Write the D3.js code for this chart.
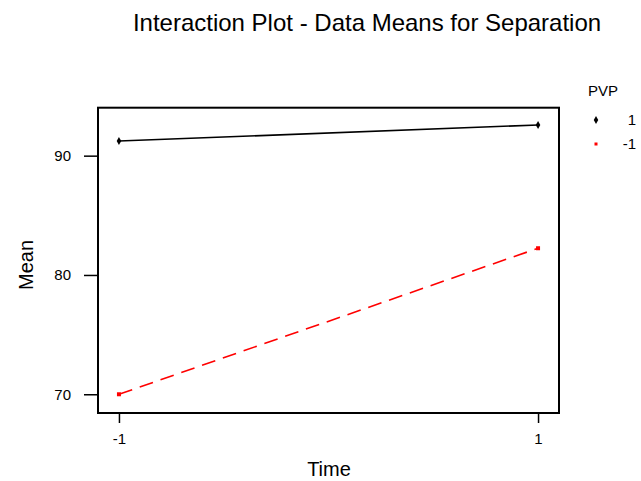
<!DOCTYPE html>
<html><head><meta charset="utf-8">
<script src="https://cdn.jsdelivr.net/npm/d3@7"></script>
<style>body{margin:0;background:#fff}svg{display:block}text{font-family:"Liberation Sans",Arial,sans-serif}</style>
</head><body>
<script>
const timeLevels = [-1, 1];
const seriesNames = ["1", "-1"];
const meansPVP1 = [91.23, 92.57];
const meansPVPm1 = [70.0, 82.24];
const yTicks = [70, 80, 90];
const xTicks = [-1, 1];
const colors = ["#000000", "#ff0000"];

const W = 641, H = 481;
const svg = d3.select("body").append("svg").attr("width", W).attr("height", H);
const L = 98, R = 559, T = 107.7, B = 413;
const x = d3.scaleLinear().domain([-1.1, 1.1]).range([L, R]);
const y = d3.scaleLinear().domain([68.43, 94.02]).range([B, T]);

svg.append("text").attr("x", 367).attr("y", 31).attr("text-anchor", "middle")
  .attr("font-size", 24).text("Interaction Plot - Data Means for Separation");

// axes
const yAxis = d3.axisLeft(y).tickValues(yTicks).tickSize(14).tickPadding(13);
const gy = svg.append("g").attr("transform", `translate(${L},0)`).call(yAxis);
const xAxis = d3.axisBottom(x).tickValues(xTicks).tickSize(10).tickPadding(10).tickFormat(d3.format("d"));
const gx = svg.append("g").attr("transform", `translate(0,${B})`).call(xAxis);
[gx, gy].forEach(g => {
  g.select(".domain").remove();
  g.selectAll(".tick line").attr("stroke", "#000").attr("stroke-width", 1.5);
  g.selectAll(".tick text").attr("font-size", 15).attr("fill", "#000")
    .attr("font-family", '"Liberation Sans",Arial,sans-serif');
});
gx.selectAll(".tick text").text(d => d === -1 ? "-1" : String(d));

svg.append("rect").attr("x", L).attr("y", T).attr("width", R - L).attr("height", B - T)
  .attr("fill", "none").attr("stroke", "#000").attr("stroke-width", 2);

svg.append("text").attr("x", 329).attr("y", 476).attr("text-anchor", "middle")
  .attr("font-size", 20).text("Time");
svg.append("text").attr("transform", "translate(33,265) rotate(-90)").attr("text-anchor", "middle")
  .attr("font-size", 20).text("Mean");

const series = [meansPVP1, meansPVPm1];
const line = d3.line().x((d, i) => x(timeLevels[i])).y(d => y(d));
series.forEach((vals, s) => {
  svg.append("path").attr("d", line(vals)).attr("fill", "none")
    .attr("stroke", colors[s]).attr("stroke-width", 1.6)
    .attr("stroke-dasharray", s === 1 ? "14,8" : null);
  vals.forEach((v, i) => {
    if (s === 0) {
      svg.append("path").attr("d", d3.symbol(d3.symbolDiamond, 18)())
        .attr("transform", `translate(${x(timeLevels[i])},${y(v)})`).attr("fill", colors[s]);
    } else {
      svg.append("rect").attr("x", x(timeLevels[i]) - 2).attr("y", y(v) - 2)
        .attr("width", 4).attr("height", 4).attr("fill", colors[s]);
    }
  });
});

// legend
svg.append("text").attr("x", 603).attr("y", 96).attr("text-anchor", "middle").attr("font-size", 15).text("PVP");
seriesNames.forEach((n, s) => {
  const ly = 120 + s * 24;
  if (s === 0) {
    svg.append("path").attr("d", d3.symbol(d3.symbolDiamond, 18)())
      .attr("transform", `translate(596,${ly})`).attr("fill", colors[s]);
  } else {
    svg.append("rect").attr("x", 594.5).attr("y", ly - 1.5).attr("width", 3).attr("height", 3).attr("fill", colors[s]);
  }
  svg.append("text").attr("x", 636).attr("y", ly + 5).attr("text-anchor", "end").attr("font-size", 15).text(n);
});
</script>
</body></html>
